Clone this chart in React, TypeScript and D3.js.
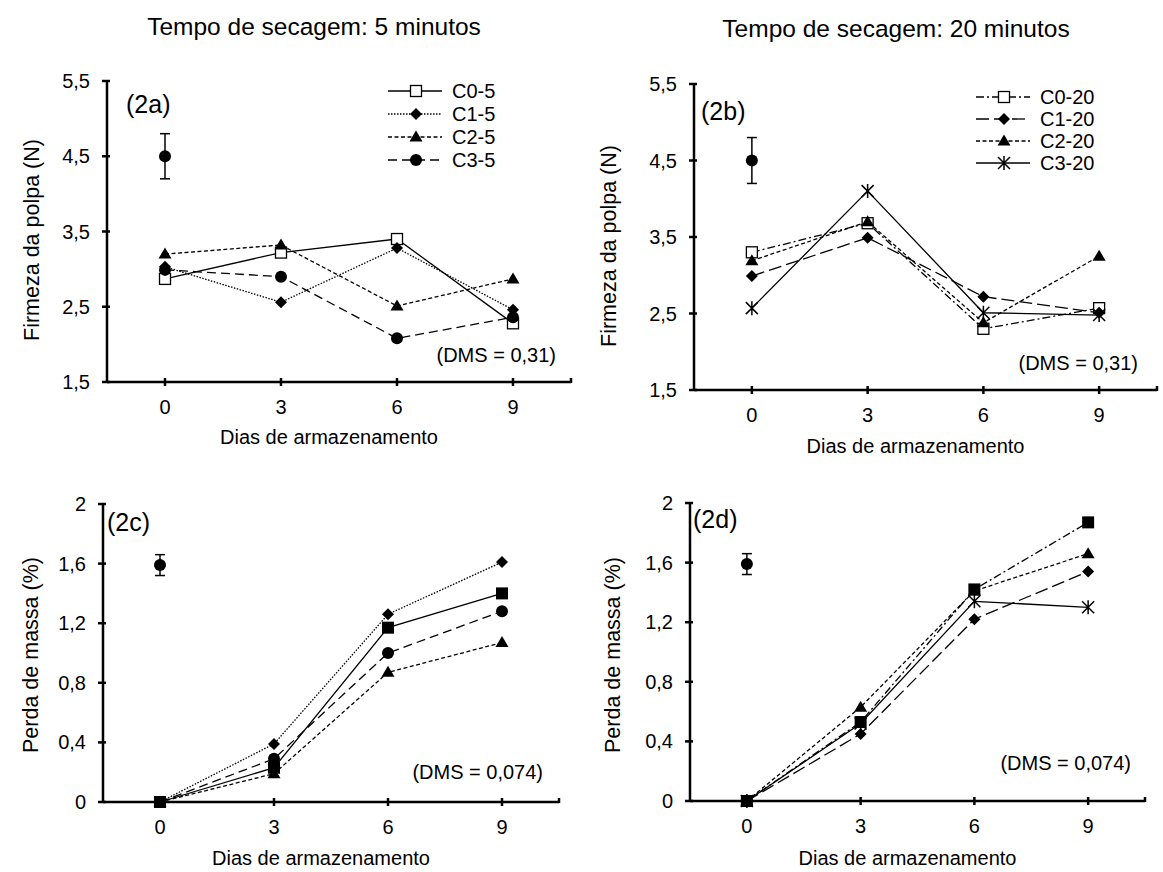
import React from "react";
import * as d3 from "d3";

const days = [0, 3, 6, 9];

// Firmeza da polpa (N) - 5 minutos
const firmC0_5 = [2.87, 3.22, 3.4, 2.28];
const firmC1_5 = [3.03, 2.56, 3.28, 2.46];
const firmC2_5 = [3.2, 3.32, 2.51, 2.87];
const firmC3_5 = [2.99, 2.9, 2.08, 2.36];

// Firmeza da polpa (N) - 20 minutos
const firmC0_20 = [3.3, 3.68, 2.3, 2.57];
const firmC1_20 = [2.99, 3.49, 2.72, 2.51];
const firmC2_20 = [3.19, 3.7, 2.38, 3.25];
const firmC3_20 = [2.57, 4.1, 2.51, 2.48];

// Perda de massa (%) - 5 minutos
const massC0_5 = [0, 0.23, 1.17, 1.4];
const massC1_5 = [0, 0.39, 1.26, 1.61];
const massC2_5 = [0, 0.19, 0.87, 1.07];
const massC3_5 = [0, 0.29, 1.0, 1.28];

// Perda de massa (%) - 20 minutos
const massC0_20 = [0, 0.53, 1.42, 1.87];
const massC1_20 = [0, 0.45, 1.22, 1.54];
const massC2_20 = [0, 0.63, 1.41, 1.66];
const massC3_20 = [0, 0.52, 1.34, 1.3];

// valor inicial (dia 0) com barra de erro
const initFirm = 4.5;
const initFirmErr = 0.3;
const initMass = 1.59;
const initMassErr = 0.07;

const firmTicks = [1.5, 2.5, 3.5, 4.5, 5.5];
const massTicks = [0, 0.4, 0.8, 1.2, 1.6, 2];
const names5 = ["C0-5", "C1-5", "C2-5", "C3-5"];
const names20 = ["C0-20", "C1-20", "C2-20", "C3-20"];

const FONT = "'Liberation Sans', Arial, sans-serif";
const fmt = (v: number) => String(v).replace(".", ",");

type Marker = "square" | "squareOpen" | "diamond" | "triangle" | "circle" | "star";
type Series = { name: string; values: number[]; dash: string; marker: Marker };

function Mark({ type, x, y }: { type: Marker; x: number; y: number }) {
  if (type === "squareOpen")
    return <rect x={x - 5.5} y={y - 5.5} width={11} height={11} fill="#fff" stroke="#000" strokeWidth={1.3} />;
  if (type === "square") return <rect x={x - 6} y={y - 6} width={12} height={12} fill="#000" />;
  if (type === "diamond")
    return <path d={`M${x},${y - 6}L${x + 6},${y}L${x},${y + 6}L${x - 6},${y}Z`} fill="#000" />;
  if (type === "triangle")
    return <path d={`M${x},${y - 6.5}L${x + 6.5},${y + 4.5}L${x - 6.5},${y + 4.5}Z`} fill="#000" />;
  if (type === "circle") return <circle cx={x} cy={y} r={6} fill="#000" />;
  const s = 6;
  return (
    <path
      d={`M${x - s},${y - s}L${x + s},${y + s}M${x - s},${y + s}L${x + s},${y - s}M${x},${y - s - 1}L${x},${y + s + 1}`}
      stroke="#000"
      strokeWidth={1.5}
      fill="none"
    />
  );
}

type PanelProps = {
  x0: number;
  x1: number;
  yTop: number;
  yBot: number;
  domain: [number, number];
  ticks: number[];
  series: Series[];
  tag: string;
  tagX: number;
  tagY: number;
  dms: string;
  dmsX: number;
  dmsY: number;
  init: number;
  initErr: number;
  yLabel: string;
  yLabelX: number;
  yLabelY: number;
  xLabelY: number;
  legend?: { x: number; y: number; step: number };
};

function Panel(p: PanelProps) {
  const x = d3.scaleLinear().domain([-1.5, 10.5]).range([p.x0, p.x1]);
  const y = d3.scaleLinear().domain(p.domain).range([p.yBot, p.yTop]);
  const line = d3
    .line<number>()
    .x((_, i) => x(days[i]))
    .y((d) => y(d));
  const xc = (p.x0 + p.x1) / 2 - 10;
  return (
    <g fontFamily={FONT}>
      {p.series.map((s) => (
        <path key={s.name} d={line(s.values) || ""} fill="none" stroke="#000" strokeWidth={1.3} strokeDasharray={s.dash} />
      ))}
      {p.series.map((s) =>
        s.values.map((v, i) => <Mark key={s.name + i} type={s.marker} x={x(days[i])} y={y(v)} />)
      )}
      {/* valor inicial */}
      <g stroke="#000" strokeWidth={1.5}>
        <line x1={x(0)} x2={x(0)} y1={y(p.init - p.initErr)} y2={y(p.init + p.initErr)} />
        <line x1={x(0) - 5} x2={x(0) + 5} y1={y(p.init - p.initErr)} y2={y(p.init - p.initErr)} />
        <line x1={x(0) - 5} x2={x(0) + 5} y1={y(p.init + p.initErr)} y2={y(p.init + p.initErr)} />
      </g>
      <circle cx={x(0)} cy={y(p.init)} r={6} fill="#000" />
      {/* eixos */}
      <g stroke="#000" strokeWidth={2.5}>
        <line x1={p.x0} x2={p.x0} y1={p.yTop - 1} y2={p.yBot} />
        <line x1={p.x0} x2={p.x1} y1={p.yBot} y2={p.yBot} />
        {p.ticks.map((t) => (
          <line key={t} x1={p.x0 - 5} x2={p.x0 + 3} y1={y(t)} y2={y(t)} />
        ))}
        {days.map((d) => (
          <line key={d} x1={x(d)} x2={x(d)} y1={p.yBot - 4} y2={p.yBot + 4} />
        ))}
        <line x1={p.x1} x2={p.x1} y1={p.yBot - 4} y2={p.yBot + 1} />
      </g>
      {p.ticks.map((t) => (
        <text key={t} x={p.x0 - 17} y={y(t)} dy="0.35em" textAnchor="end" fontSize={20}>
          {fmt(t)}
        </text>
      ))}
      {days.map((d) => (
        <text key={d} x={x(d)} y={p.yBot + 25} dy="0.35em" textAnchor="middle" fontSize={20}>
          {d}
        </text>
      ))}
      <text x={xc} y={p.xLabelY} dy="0.35em" textAnchor="middle" fontSize={20}>
        Dias de armazenamento
      </text>
      <text
        transform={`translate(${p.yLabelX},${p.yLabelY}) rotate(-90)`}
        dy="0.35em"
        textAnchor="middle"
        fontSize={21.5}
      >
        {p.yLabel}
      </text>
      <text x={p.tagX} y={p.tagY} dy="0.35em" fontSize={25}>
        {p.tag}
      </text>
      <text x={p.dmsX} y={p.dmsY} dy="0.35em" textAnchor="end" fontSize={20}>
        {p.dms}
      </text>
      {p.legend &&
        p.series.map((s, i) => {
          const ly = p.legend!.y + i * p.legend!.step;
          const lx = p.legend!.x;
          return (
            <g key={s.name}>
              <line x1={lx} x2={lx + 54} y1={ly} y2={ly} stroke="#000" strokeWidth={1.3} strokeDasharray={s.dash} />
              <Mark type={s.marker} x={lx + 28} y={ly} />
              <text x={lx + 64} y={ly} dy="0.35em" fontSize={20}>
                {s.name}
              </text>
            </g>
          );
        })}
    </g>
  );
}

const dotted = "1.5,1.5";
const shortDash = "4,2.5";
const longDash = "9,5";
const dashDot = "8,3,2,3";
const longDash20 = "13,5";

export default function App() {
  const firm5: Series[] = [
    { name: names5[0], values: firmC0_5, dash: "", marker: "squareOpen" },
    { name: names5[1], values: firmC1_5, dash: dotted, marker: "diamond" },
    { name: names5[2], values: firmC2_5, dash: shortDash, marker: "triangle" },
    { name: names5[3], values: firmC3_5, dash: longDash, marker: "circle" },
  ];
  const firm20: Series[] = [
    { name: names20[0], values: firmC0_20, dash: dashDot, marker: "squareOpen" },
    { name: names20[1], values: firmC1_20, dash: longDash20, marker: "diamond" },
    { name: names20[2], values: firmC2_20, dash: shortDash, marker: "triangle" },
    { name: names20[3], values: firmC3_20, dash: "", marker: "star" },
  ];
  const mass5: Series[] = [
    { name: names5[0], values: massC0_5, dash: "", marker: "square" },
    { name: names5[1], values: massC1_5, dash: dotted, marker: "diamond" },
    { name: names5[2], values: massC2_5, dash: shortDash, marker: "triangle" },
    { name: names5[3], values: massC3_5, dash: longDash, marker: "circle" },
  ];
  const mass20: Series[] = [
    { name: names20[0], values: massC0_20, dash: dashDot, marker: "square" },
    { name: names20[1], values: massC1_20, dash: longDash20, marker: "diamond" },
    { name: names20[2], values: massC2_20, dash: shortDash, marker: "triangle" },
    { name: names20[3], values: massC3_20, dash: "", marker: "star" },
  ];
  return (
    <svg width={1163} height={872} style={{ position: "absolute", left: 0, top: 0, background: "#fff" }}>
      <rect width={1163} height={872} fill="#fff" />
      <text x={314} y={26} dy="0.35em" textAnchor="middle" fontSize={24.5} fontFamily={FONT}>
        Tempo de secagem: 5 minutos
      </text>
      <text x={896} y={28} dy="0.35em" textAnchor="middle" fontSize={24.5} fontFamily={FONT}>
        Tempo de secagem: 20 minutos
      </text>
      <Panel
        x0={107} x1={571} yTop={81} yBot={382}
        domain={[1.5, 5.5]} ticks={firmTicks} series={firm5}
        tag="(2a)" tagX={126} tagY={104}
        dms="(DMS = 0,31)" dmsX={556} dmsY={355}
        init={initFirm} initErr={initFirmErr}
        yLabel="Firmeza da polpa (N)" yLabelX={31} yLabelY={240} xLabelY={437}
        legend={{ x: 388, y: 91, step: 23 }}
      />
      <Panel
        x0={694} x1={1157} yTop={84} yBot={390}
        domain={[1.5, 5.5]} ticks={firmTicks} series={firm20}
        tag="(2b)" tagX={701} tagY={111}
        dms="(DMS = 0,31)" dmsX={1138} dmsY={363}
        init={initFirm} initErr={initFirmErr}
        yLabel="Firmeza da polpa (N)" yLabelX={608} yLabelY={246} xLabelY={446}
        legend={{ x: 976, y: 97, step: 22 }}
      />
      <Panel
        x0={103} x1={559} yTop={504} yBot={802}
        domain={[0, 2]} ticks={massTicks} series={mass5}
        tag="(2c)" tagX={107} tagY={522}
        dms="(DMS = 0,074)" dmsX={543} dmsY={772}
        init={initMass} initErr={initMassErr}
        yLabel="Perda de massa (%)" yLabelX={30} yLabelY={655} xLabelY={858}
      />
      <Panel
        x0={690} x1={1145} yTop={503} yBot={801}
        domain={[0, 2]} ticks={massTicks} series={mass20}
        tag="(2d)" tagX={693} tagY={519}
        dms="(DMS = 0,074)" dmsX={1131} dmsY={763}
        init={initMass} initErr={initMassErr}
        yLabel="Perda de massa (%)" yLabelX={612} yLabelY={655} xLabelY={858}
      />
    </svg>
  );
}
